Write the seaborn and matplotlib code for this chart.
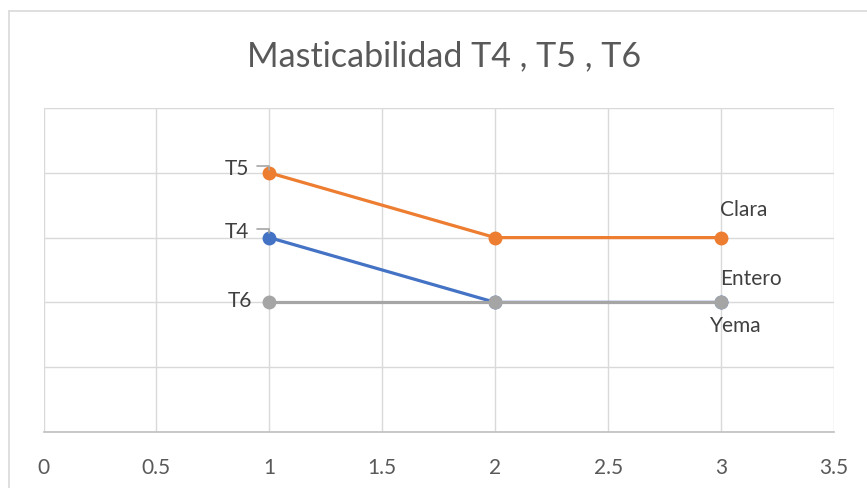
import matplotlib
matplotlib.use("Agg")
import matplotlib.pyplot as plt
from matplotlib.lines import Line2D
import pandas as pd
import seaborn as sns

# Series values
x_vals = [1, 2, 3]
entero = [3, 2, 2]
clara = [4, 3, 3]
yema = [2, 2, 2]
series_names = ["Entero", "Clara", "Yema"]
start_labels = ["T4", "T5", "T6"]
colors = ["#4472C4", "#ED7D31", "#A5A5A5"]
x_ticks = [0, 0.5, 1, 1.5, 2, 2.5, 3, 3.5]
title = "Masticabilidad T4 , T5 , T6"

sns.set_theme(style="white")
plt.rcParams["font.family"] = ["Lato", "DejaVu Sans"]

df = pd.DataFrame({
    "x": x_vals * 3,
    "y": entero + clara + yema,
    "serie": [s for s in series_names for _ in x_vals],
})

W, H = 867, 488
fig = plt.figure(figsize=(W / 100, H / 100), dpi=100)
ax = fig.add_axes([43.5 / W, 1 - 432 / H, (834 - 43.5) / W, (432 - 108) / H])

sns.lineplot(data=df, x="x", y="y", hue="serie", hue_order=series_names,
             palette=colors, marker="o", markersize=10, markeredgewidth=0,
             linewidth=2.3, legend=False, ax=ax, zorder=3)

ax.set_xlim(0, 3.5)
ax.set_ylim(0, 5)
ax.set_xticks(x_ticks)
ax.set_xticklabels([f"{t:g}" for t in x_ticks])
ax.set_yticks([0, 1, 2, 3, 4, 5])
ax.set_yticklabels([])
ax.set_xlabel("")
ax.set_ylabel("")
ax.grid(True, color="#D9D9D9", linewidth=1)
ax.set_axisbelow(True)
for side in ["left", "right", "top"]:
    ax.spines[side].set_visible(False)
ax.spines["bottom"].set_color("#BFBFBF")
ax.spines["bottom"].set_linewidth(1.2)
ax.tick_params(axis="x", length=6, width=1, color="#BFBFBF", direction="out",
               labelsize=15, labelcolor="#595959", pad=13)
ax.tick_params(axis="y", length=0)

# Data labels at the first point of each series
first_offsets = {"T4": (-20, 6), "T5": (-20, 4), "T6": (-17, 1)}
series_vals = [entero, clara, yema]
for lab, vals in zip(start_labels, series_vals):
    dx, dy = first_offsets[lab]
    ax.annotate(lab, (x_vals[0], vals[0]), xytext=(dx, dy),
                textcoords="offset pixels", ha="right", va="center",
                fontsize=15, color="#404040", zorder=5)

# Short leader lines for T4 and T5
for vals, dy in [(entero, 9), (clara, 7)]:
    base = ax.transData.transform((x_vals[0], vals[0]))
    px = [base[0] - 12, base[0], base[0]]
    py = [base[1] + dy, base[1] + dy, base[1] + dy - 4]
    fig.add_artist(Line2D(px, py, transform=None, color="#A6A6A6", linewidth=1.2, zorder=4))

# Data labels at the last point of each series
end_offsets = {"Entero": (-1, 23, "left"), "Clara": (-1, 28, "left"), "Yema": (15, -24, "center")}
for name, vals in zip(series_names, series_vals):
    dx, dy, ha = end_offsets[name]
    ax.annotate(name, (x_vals[-1], vals[-1]), xytext=(dx, dy),
                textcoords="offset pixels", ha=ha, va="center",
                fontsize=15, color="#404040", zorder=5)

fig.text(444 / W, 1 - 56 / H, title, ha="center", va="center",
         fontsize=24.5, color="#595959")

# Chart frame
fig.add_artist(Line2D([8.5, 8.5], [0, H - 10.5], transform=None, color="#D9D9D9", linewidth=1.2))
fig.add_artist(Line2D([8.5, W], [H - 10.5, H - 10.5], transform=None, color="#D9D9D9", linewidth=1.2))

fig.savefig("out.png", dpi=100)
